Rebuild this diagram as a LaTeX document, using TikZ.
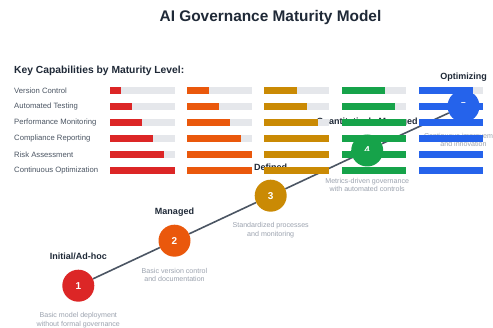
\documentclass[tikz,border=0pt]{standalone}
\usepackage{fontspec}
\setmainfont{Liberation Sans}
\usetikzlibrary{backgrounds}
\definecolor{cred}{HTML}{DC2626}
\definecolor{corange}{HTML}{EA580C}
\definecolor{cgold}{HTML}{CA8A04}
\definecolor{cgreen}{HTML}{16A34A}
\definecolor{cblue}{HTML}{2563EB}
\definecolor{cbg}{HTML}{E5E7EB}
\definecolor{ctitle}{HTML}{1F2937}
\definecolor{clabel}{HTML}{4B5563}
\definecolor{cdesc}{HTML}{9CA3AF}
\definecolor{cline}{HTML}{4B5563}
\begin{document}
\begin{tikzpicture}[x=1pt,y=-1pt,
  titletext/.style={font=\bfseries\fontsize{15.4}{18}\selectfont, text=ctitle},
  headtext/.style={font=\bfseries\fontsize{10.3}{12}\selectfont, text=ctitle, anchor=west, inner sep=0},
  rowtext/.style={font=\fontsize{7.7}{9}\selectfont, text=clabel, anchor=west, inner sep=0},
  leveltext/.style={font=\bfseries\fontsize{9}{11}\selectfont, text=ctitle, inner sep=0},
  desctext/.style={font=\fontsize{7.1}{8.7}\selectfont, text=cdesc, align=center, inner sep=0},
  levelcircle/.style={circle, fill=#1, minimum size=32pt, inner sep=0, text=white, font=\bfseries\fontsize{10}{12}\selectfont},
  connector/.style={draw=cline, line width=1.6pt}
]
\useasboundingbox (0,0) rectangle (493,328);
\begin{scope}[on background layer]
  \fill[white] (0,0) rectangle (493,328);
\end{scope}

\node[titletext] (title) at (270.5,17.2) {AI Governance Maturity Model};
\node[headtext] (head) at (14,70.7) {Key Capabilities by Maturity Level:};

% level circles
\node[levelcircle=cred]    (c1) at (78.3,285.7) {1};
\node[levelcircle=corange] (c2) at (174.5,240.7) {2};
\node[levelcircle=cgold]   (c3) at (270.7,195.7) {3};
\node[levelcircle=cgreen]  (c4) at (367.2,150.5) {4};
\node[levelcircle=cblue]   (c5) at (463.5,106.2) {5};

\begin{scope}[on background layer]
  \draw[connector] (c1) -- (c2);
  \draw[connector] (c2) -- (c3);
  \draw[connector] (c3) -- (c4);
  \draw[connector] (c4) -- (c5);
\end{scope}

% level names
\node[leveltext] (l1) at (78.3,256.7) {Initial/Ad-hoc};
\node[leveltext] (l2) at (174.5,212.0) {Managed};
\node[leveltext] (l3) at (270.7,166.9) {Defined};
\node[leveltext] (l4) at (367.2,122.0) {Quantitatively Managed};
\node[leveltext] (l5) at (463.5,77.0) {Optimizing};

% descriptions
\node[desctext] (d1) at (78.3,320.0) {Basic model deployment\\without formal governance};
\node[desctext] (d2) at (174.5,275.0) {Basic version control\\and documentation};
\node[desctext] (d3) at (270.7,230.0) {Standardized processes\\and monitoring};
\node[desctext] (d4) at (367.2,185.0) {Metrics-driven governance\\with automated controls};
\node[desctext] (d5) at (463.5,140.0) {Continuous improvement\\and innovation};

% capability rows
\foreach \r/\t in {1/Version Control,2/Automated Testing,3/Performance Monitoring,4/Compliance Reporting,5/Risk Assessment,6/Continuous Optimization}{
  \node[rowtext] (row\r) at (14,{90.7+16*(\r-1)}) {\t};
}

% bars
\foreach \c/\col in {0/cred,1/corange,2/cgold,3/cgreen,4/cblue}{
  \foreach \r in {1,...,6}{
    \pgfmathsetmacro{\xa}{110+77.2*\c}
    \pgfmathsetmacro{\yc}{90.7+16*(\r-1)}
    \pgfmathsetmacro{\fr}{min(1,(\r+\c)/6)}
    \fill[cbg] (\xa,\yc-3.4) rectangle ++(64.5,6.8);
    \fill[\col] (\xa,\yc-3.4) rectangle ++(64.5*\fr,6.8);
  }
}
\end{tikzpicture}
\end{document}
